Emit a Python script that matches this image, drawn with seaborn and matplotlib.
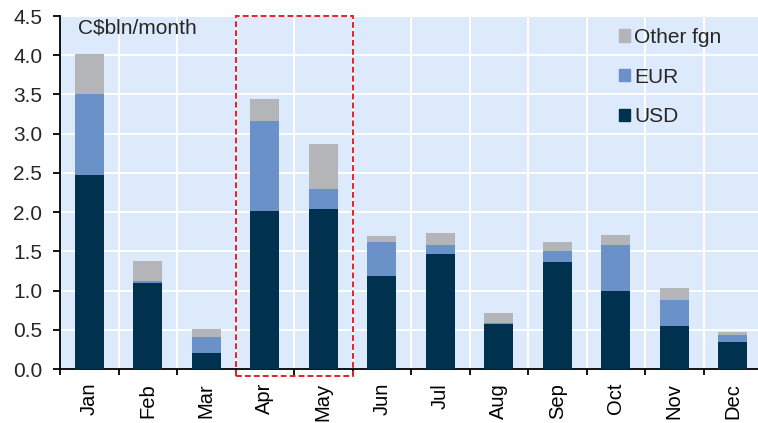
import matplotlib
matplotlib.use("Agg")
import matplotlib.pyplot as plt
from matplotlib.patches import Patch, Rectangle
from matplotlib.ticker import FixedLocator, FormatStrFormatter
import numpy as np
import pandas as pd
import seaborn as sns

# values, C$ bln per month
months = ["Jan", "Feb", "Mar", "Apr", "May", "Jun",
          "Jul", "Aug", "Sep", "Oct", "Nov", "Dec"]
usd = [2.47, 1.10, 0.20, 2.01, 2.04, 1.19, 1.46, 0.57, 1.36, 0.99, 0.55, 0.35]
eur = [1.04, 0.02, 0.21, 1.15, 0.25, 0.43, 0.12, 0.02, 0.15, 0.59, 0.33, 0.08]
other = [0.50, 0.26, 0.10, 0.28, 0.58, 0.08, 0.15, 0.12, 0.11, 0.13, 0.15, 0.04]

col_usd = "#00324F"
col_eur = "#6B91C9"
col_other = "#B4B5B8"
bg = "#DDEAFB"


def main() -> None:
	sns.set_theme(style="darkgrid", rc={
		"axes.facecolor": bg,
		"grid.color": "white",
		"grid.linewidth": 1.4,
	})
	plt.rcParams["font.family"] = ["Liberation Sans", "DejaVu Sans"]

	df = pd.DataFrame({"month": months, "usd": usd, "eur": eur, "other": other})
	df["usd_eur"] = df["usd"] + df["eur"]
	df["total"] = df["usd_eur"] + df["other"]

	fig = plt.figure(figsize=(7.58, 4.23), dpi=100)
	ax = fig.add_axes([60 / 758, 54 / 423, 1 - 60 / 758, 353 / 423])

	# stack by overdrawing cumulative totals
	kw = dict(x="month", order=months, width=0.5, linewidth=0, saturation=1,
		ax=ax, zorder=3)
	sns.barplot(data=df, y="total", color=col_other, **kw)
	sns.barplot(data=df, y="usd_eur", color=col_eur, **kw)
	sns.barplot(data=df, y="usd", color=col_usd, **kw)

	ax.set_xlim(-0.5, -0.5 + 698 / 58.5)
	ax.set_ylim(0, 4.5)
	ax.set_xlabel("")
	ax.set_ylabel("")

	ax.set_yticks(np.arange(0, 4.51, 0.5))
	ax.yaxis.set_major_formatter(FormatStrFormatter("%.1f"))
	ax.xaxis.set_minor_locator(FixedLocator(np.arange(-0.5, 12, 1)))
	ax.grid(False, axis="x", which="major")
	ax.grid(True, axis="x", which="minor", color="white", linewidth=1.4)
	ax.set_axisbelow(True)

	ax.tick_params(axis="x", which="major", length=0, pad=10, labelsize=14.5,
		labelrotation=90, colors="black")
	ax.tick_params(axis="x", which="minor", length=4.5, width=1.3, color="black",
		direction="out", bottom=True)
	ax.tick_params(axis="y", which="major", length=4.8, width=1.3, color="black",
		direction="out", left=True, labelsize=15, pad=8)

	for side in ["top", "right"]:
		ax.spines[side].set_visible(False)
	for side in ["left", "bottom"]:
		ax.spines[side].set_visible(True)
		ax.spines[side].set_color("black")
		ax.spines[side].set_linewidth(1.3)

	ax.text(0.026, 0.993, "C$bln/month", transform=ax.transAxes, ha="left", va="top",
		fontsize=15)

	# dashed highlight around Apr-May
	box = Rectangle((2.5, -0.09), 2.0, 4.59, fill=False, edgecolor="#E8202A",
		linewidth=1.4, linestyle=(0, (3, 1.6)), clip_on=False, zorder=5)
	ax.add_patch(box)

	handles = [Patch(color=col_other, label="Other fgn"),
		Patch(color=col_eur, label="EUR"),
		Patch(color=col_usd, label="USD")]
	ax.legend(handles=handles, loc="upper left", bbox_to_anchor=(0.801, 0.966),
		frameon=False, fontsize=15, handlelength=0.53, handleheight=0.53,
		handletextpad=0.2, labelspacing=0.99, borderaxespad=0, borderpad=0)

	fig.savefig("out.png", dpi=100)
	plt.close(fig)


if __name__ == "__main__":
	main()
